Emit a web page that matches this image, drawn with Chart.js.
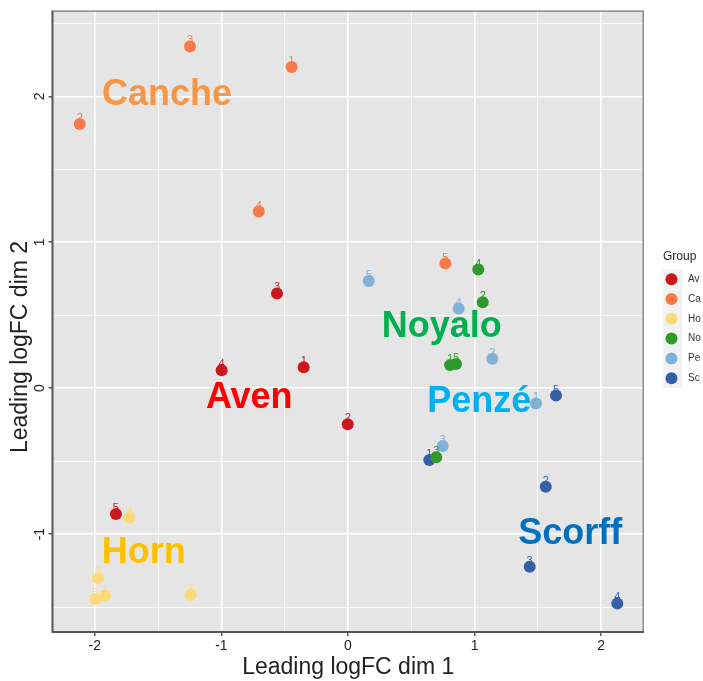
<!DOCTYPE html>
<html>
<head>
<meta charset="utf-8">
<title>MDS plot – Leading logFC</title>
<script src="https://cdn.jsdelivr.net/npm/chart.js@4.4.1/dist/chart.umd.min.js"></script>
<style>
  html, body { margin: 0; padding: 0; background: #ffffff; }
  #wrap { width: 703px; height: 681px; }
</style>
</head>
<body>
<div id="wrap"><canvas id="mds" width="703" height="681"></canvas></div>
<script>
// Groups (rivers) and their point colours
const groups = ['Av', 'Ca', 'Ho', 'No', 'Pe', 'Sc'];
const groupColors = ['#C9191E', '#F97A49', '#FDD97A', '#2F9A2A', '#80B2D8', '#3560A8'];

// Sample numbers inside each group
const sampleIds = [1, 2, 3, 4, 5];

// Leading logFC dimension 1 / dimension 2, samples 1..5 per group
const avDim1 = [-0.350, -0.002, -0.561, -0.998, -1.833];
const avDim2 = [0.144, -0.247, 0.649, 0.123, -0.863];
const caDim1 = [-0.445, -2.119, -1.248, -0.705, 0.769];
const caDim2 = [2.201, 1.810, 2.342, 1.210, 0.854];
const hoDim1 = [-1.919, -1.243, -1.974, -1.727, -1.996];
const hoDim2 = [-1.423, -1.416, -1.303, -0.888, -1.445];
const noDim1 = [0.806, 1.064, 0.697, 1.029, 0.853];
const noDim2 = [0.158, 0.589, -0.473, 0.813, 0.166];
const peDim1 = [1.485, 1.140, 0.748, 0.874, 0.164];
const peDim2 = [-0.105, 0.201, -0.397, 0.546, 0.735];
const scDim1 = [0.642, 1.562, 1.435, 2.127, 1.643];
const scDim2 = [-0.493, -0.676, -1.224, -1.475, -0.051];

const dim1ByGroup = [avDim1, caDim1, hoDim1, noDim1, peDim1, scDim1];
const dim2ByGroup = [avDim2, caDim2, hoDim2, noDim2, peDim2, scDim2];

// Grid breaks (labelled where whole numbers)
const xBreaks = [-2, -1.5, -1, -0.5, 0, 0.5, 1, 1.5, 2];
const yBreaks = [-1.5, -1, -0.5, 0, 0.5, 1, 1.5, 2, 2.5];

// River names written over the point clouds
const riverNames = ['Canche', 'Aven', 'Noyalo', 'Penzé', 'Horn', 'Scorff'];
const riverColors = ['#F79646', '#FF0000', '#00B050', '#00B0F0', '#FFC000', '#0070C0'];

const FONT = '"Liberation Sans", Arial, Helvetica, sans-serif';

const datasets = groups.map((g, i) => ({
  label: g,
  sampleIds: sampleIds,
  data: dim1ByGroup[i].map((x, j) => ({ x: x, y: dim2ByGroup[i][j] })),
  backgroundColor: groupColors[i],
  borderColor: groupColors[i],
  pointRadius: 6,
  pointHoverRadius: 6,
  borderWidth: 0
}));

// Grey panel background behind the grid
const panelBackground = {
  id: 'panelBackground',
  beforeDraw(chart) {
    const { ctx, chartArea: a } = chart;
    ctx.save();
    ctx.fillStyle = '#E5E5E5';
    ctx.fillRect(a.left, a.top, a.right - a.left, a.bottom - a.top);
    ctx.restore();
  }
};

// Panel frame: dark axis lines on left/bottom, lighter border on top/right
const panelFrame = {
  id: 'panelFrame',
  afterDatasetsDraw(chart) {
    const { ctx, chartArea: a } = chart;
    ctx.save();
    ctx.strokeStyle = '#8E8E8E';
    ctx.lineWidth = 1.5;
    ctx.beginPath();
    ctx.moveTo(a.left, a.top + 0.75);
    ctx.lineTo(a.right - 0.75, a.top + 0.75);
    ctx.lineTo(a.right - 0.75, a.bottom);
    ctx.stroke();
    ctx.strokeStyle = '#555555';
    ctx.lineWidth = 2;
    ctx.beginPath();
    ctx.moveTo(a.left, a.top);
    ctx.lineTo(a.left, a.bottom);
    ctx.lineTo(a.right, a.bottom);
    ctx.stroke();
    ctx.restore();
  }
};

// Sample number written just above every point
const sampleLabels = {
  id: 'sampleLabels',
  afterDatasetsDraw(chart) {
    const ctx = chart.ctx;
    ctx.save();
    ctx.font = '11px ' + FONT;
    ctx.textAlign = 'center';
    ctx.textBaseline = 'alphabetic';
    chart.data.datasets.forEach((ds, i) => {
      const meta = chart.getDatasetMeta(i);
      ctx.fillStyle = ds.backgroundColor;
      meta.data.forEach((pt, j) => {
        ctx.fillText(String(ds.sampleIds[j]), pt.x, pt.y - 3);
      });
    });
    ctx.restore();
  }
};

// Large river names placed in data coordinates
const riverLabels = {
  id: 'riverLabels',
  afterDatasetsDraw(chart, args, opts) {
    const { ctx, scales: { x, y } } = chart;
    ctx.save();
    ctx.font = 'bold 36px ' + FONT;
    ctx.textAlign = 'center';
    ctx.textBaseline = 'alphabetic';
    opts.items.forEach(it => {
      ctx.fillStyle = it.color;
      ctx.fillText(it.text, x.getPixelForValue(it.x), y.getPixelForValue(it.y));
    });
    ctx.restore();
  }
};

// Vertical axis title, written bottom-to-top beside the y tick labels
const yAxisTitle = {
  id: 'yAxisTitle',
  afterDraw(chart, args, opts) {
    const ctx = chart.ctx;
    ctx.save();
    ctx.translate(opts.baselineX, opts.centerY);
    ctx.rotate(-Math.PI / 2);
    ctx.font = '23px ' + FONT;
    ctx.fillStyle = '#222222';
    ctx.textAlign = 'center';
    ctx.textBaseline = 'alphabetic';
    ctx.fillText(opts.text, 0, 0);
    ctx.restore();
  }
};

// ggplot-style legend on the right
const groupLegend = {
  id: 'groupLegend',
  afterDraw(chart) {
    const ctx = chart.ctx;
    const a = chart.chartArea;
    const left = a.right + 19;
    const keyH = 19.8;
    const top = 269.3;
    const n = chart.data.datasets.length;
    ctx.save();
    ctx.fillStyle = '#1E1E1E';
    ctx.font = '12px ' + FONT;
    ctx.textAlign = 'left';
    ctx.textBaseline = 'middle';
    ctx.fillText('Group', left, top - 12.5);
    ctx.fillStyle = '#F2F2F2';
    ctx.fillRect(left, top, 19.3, keyH * n);
    chart.data.datasets.forEach((ds, i) => {
      const cy = top + keyH * (i + 0.5);
      ctx.fillStyle = ds.backgroundColor;
      ctx.beginPath();
      ctx.arc(left + 8.5, cy, 6, 0, Math.PI * 2);
      ctx.fill();
      ctx.fillStyle = '#333333';
      ctx.font = '10px ' + FONT;
      ctx.fillText(ds.label, left + 25, cy);
    });
    ctx.restore();
  }
};

const isWhole = v => Math.abs(v - Math.round(v)) < 1e-9;

const gridStyle = {
  color: '#FFFFFF',
  lineWidth: ctx => (ctx.tick && isWhole(ctx.tick.value)) ? 1.6 : 0.8,
  tickColor: ctx => (ctx.tick && isWhole(ctx.tick.value)) ? '#333333' : 'rgba(0,0,0,0)',
  tickWidth: 1.2,
  tickLength: 4
};

new Chart(document.getElementById('mds'), {
  type: 'scatter',
  data: { datasets: datasets },
  plugins: [panelBackground, panelFrame, sampleLabels, riverLabels, yAxisTitle, groupLegend],
  options: {
    responsive: false,
    animation: false,
    layout: { padding: { top: 10, right: 59, left: 0, bottom: 0 } },
    plugins: {
      legend: { display: false },
      tooltip: { enabled: false },
      yAxisTitle: { text: 'Leading logFC dim 2', baselineX: 27, centerY: 347 },
      riverLabels: {
        items: riverNames.map((t, i) => ({
          text: t,
          color: riverColors[i],
          x: [-1.43, -0.78, 0.74, 1.036, -1.613, 1.756][i],
          y: [1.938, -0.139, 0.351, -0.162, -1.201, -1.068][i]
        }))
      }
    },
    scales: {
      x: {
        type: 'linear',
        min: -2.334,
        max: 2.338,
        bounds: 'data',
        afterBuildTicks(scale) { scale.ticks = xBreaks.map(v => ({ value: v })); },
        afterFit(scale) { scale.height = 49; },
        border: { display: false },
        grid: gridStyle,
        ticks: {
          autoSkip: false,
          maxRotation: 0,
          padding: 2,
          color: '#222222',
          font: { family: FONT, size: 14 },
          callback: v => isWhole(v) ? String(Math.round(v)) : ''
        },
        title: {
          display: true,
          text: 'Leading logFC dim 1',
          color: '#222222',
          font: { family: FONT, size: 23 },
          padding: { top: 0, bottom: 0 }
        }
      },
      y: {
        type: 'linear',
        min: -1.671,
        max: 2.589,
        bounds: 'data',
        afterBuildTicks(scale) { scale.ticks = yBreaks.map(v => ({ value: v })); },
        afterFit(scale) { scale.width = 52.5; },
        border: { display: false },
        grid: gridStyle,
        ticks: {
          autoSkip: false,
          minRotation: 90,
          maxRotation: 90,
          crossAlign: 'center',
          padding: 2,
          color: '#222222',
          font: { family: FONT, size: 14 },
          callback: v => isWhole(v) ? String(Math.round(v)) : ''
        },
        title: { display: false }
      }
    }
  }
});
</script>
</body>
</html>
